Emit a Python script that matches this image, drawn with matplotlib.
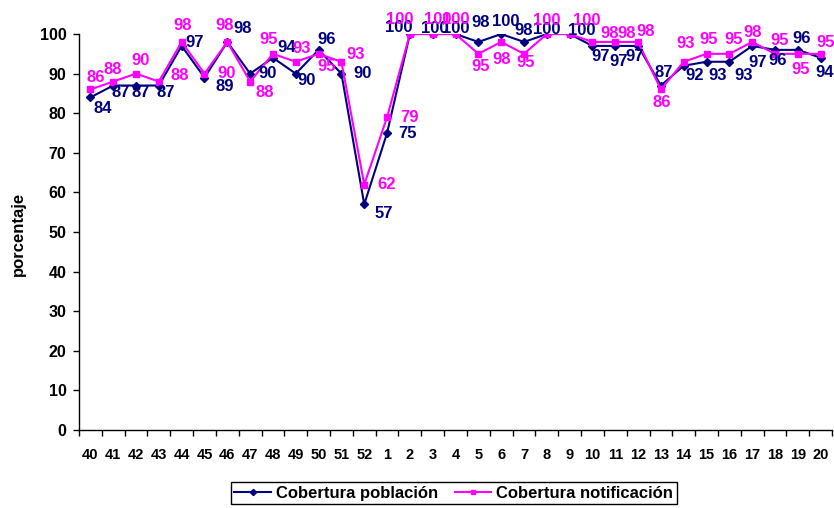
import matplotlib.pyplot as plt
import numpy as np

plt.rcParams['font.family'] = ['Liberation Sans', 'DejaVu Sans']
plt.rcParams['font.weight'] = 'bold'

# semanas epidemiológicas
semanas = ['40', '41', '42', '43', '44', '45', '46', '47', '48', '49', '50', '51', '52',
           '1', '2', '3', '4', '5', '6', '7', '8', '9', '10', '11', '12', '13', '14',
           '15', '16', '17', '18', '19', '20']
poblacion = [84, 87, 87, 87, 97, 89, 98, 90, 94, 90, 96, 90, 57,
             75, 100, 100, 100, 98, 100, 98, 100, 100, 97, 97, 97, 87, 92,
             93, 93, 97, 96, 96, 94]
notificacion = [86, 88, 90, 88, 98, 90, 98, 88, 95, 93, 95, 93, 62,
                79, 100, 100, 100, 95, 98, 95, 100, 100, 98, 98, 98, 86, 93,
                95, 95, 98, 95, 95, 95]

# desplazamiento (px) de cada etiqueta respecto a su punto
desp_pob = [(12, -11), (8, -7), (5, -7), (7, -7), (13, 3), (20, -9), (15, 13), (17, 0),
            (14, 10), (11, -7), (8, 10), (21, 0), (20, -9), (20, 0), (-11, 7), (2, 6),
            (0, 6), (2, 19), (5, 13), (0, 11), (0, 5), (12, 4), (8, -11), (3, -16),
            (-3, -11), (3, 13), (11, -10), (11, -14), (14, -14), (5, -17), (3, -11),
            (4, 11), (4, -15)]
desp_not = [(5, 12), (0, 12), (5, 13), (21, 6), (1, 16), (22, 0), (-3, 16), (15, -11),
            (-4, 14), (6, 13), (8, -13), (14, 7), (22, 0), (22, 0), (-10, 15), (5, 15),
            (0, 15), (2, -13), (0, -18), (2, -9), (0, 14), (17, 14), (17, 8), (11, 8),
            (8, 10), (1, -13), (2, 18), (2, 14), (4, 14), (0, 9), (5, 13), (3, -16),
            (5, 11)]

azul = '#000080'
rosa = '#FF00FF'

fig = plt.figure(figsize=(8.34, 5.08), dpi=100)
ax = fig.add_axes([0.0947, 0.1535, 0.903, 0.7795])
x = np.arange(len(semanas))

ax.plot(x, poblacion, color=azul, lw=1.5, marker='D', ms=4.5, label='Cobertura población')
ax.plot(x, notificacion, color=rosa, lw=1.5, marker='s', ms=4.5, label='Cobertura notificación')

for i in range(len(x)):
    ax.annotate(str(poblacion[i]), (x[i], poblacion[i]), xytext=desp_pob[i],
                textcoords='offset pixels', ha='center', va='center',
                color=azul, fontsize=12, fontweight='bold')
for i in range(len(x)):
    ax.annotate(str(notificacion[i]), (x[i], notificacion[i]), xytext=desp_not[i],
                textcoords='offset pixels', ha='center', va='center',
                color=rosa, fontsize=12, fontweight='bold')

ax.set_xlim(-0.5, len(semanas) - 0.5)
ax.set_ylim(0, 100)
ax.set_yticks(range(0, 101, 10))
ax.set_xticks(x)
ax.set_xticklabels(semanas)
ax.set_xticks(np.arange(-0.5, len(semanas), 1), minor=True)
ax.tick_params(axis='x', which='major', length=0, pad=13, labelsize=10.5)
ax.tick_params(axis='x', which='minor', length=4, width=1, direction='out')
ax.tick_params(axis='y', length=4, width=1, direction='out', labelsize=11.5, pad=5)

for s in ['top', 'right']:
    ax.spines[s].set_visible(False)
for s in ['left', 'bottom']:
    ax.spines[s].set_linewidth(1)

fig.text(0.022, 0.54, 'porcentaje', rotation=90, ha='center', va='center',
         fontsize=12, fontweight='bold')

leg = ax.legend(loc='center', bbox_to_anchor=(0.544, 0.0295), bbox_transform=fig.transFigure,
                ncol=2, frameon=True, fancybox=False, edgecolor='black', framealpha=1,
                fontsize=12, handlelength=2.2, handletextpad=0.3, columnspacing=1.0,
                borderpad=0.2, markerscale=0.7)
leg.get_frame().set_linewidth(1)

plt.savefig('out.png', dpi=100)
